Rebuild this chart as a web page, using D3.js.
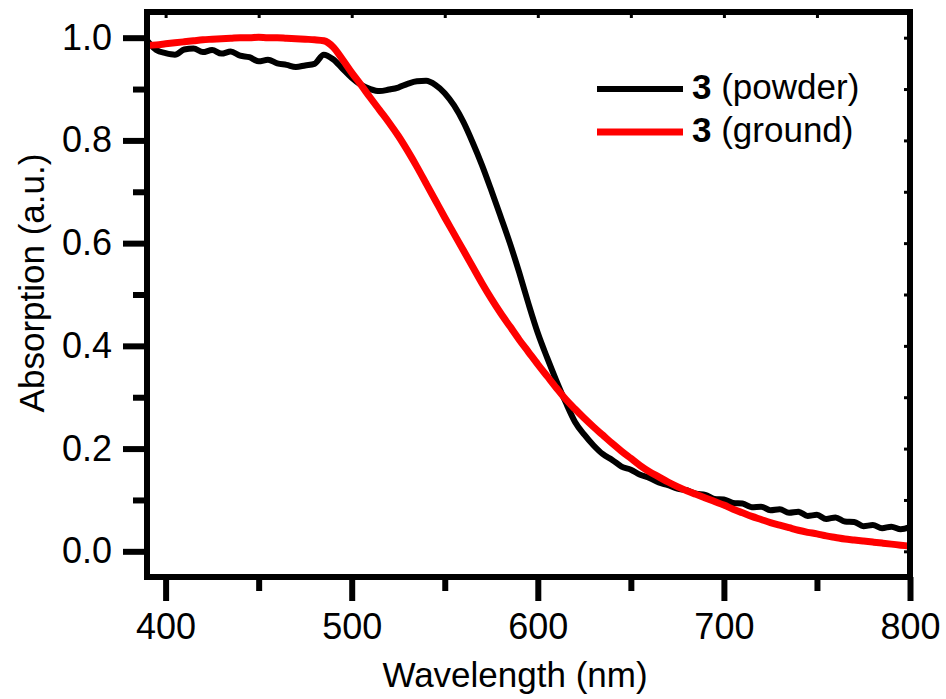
<!DOCTYPE html>
<html>
<head>
<meta charset="utf-8">
<script src="https://cdn.jsdelivr.net/npm/d3@7"></script>
<style>
  body { margin: 0; background: #fff; }
  text { font-family: "Liberation Sans", Arial, sans-serif; }
</style>
</head>
<body>
<div id="bdy"></div>
<script>
var width = 946;
var height = 699;

// wavelength grid (nm), 5 nm step
var wavelength = d3.range(390, 801, 5);

// 3 (powder) - black
var powder = [
  0.995, 0.976, 0.970, 0.967, 0.977, 0.979, 0.972, 0.976, 0.969, 0.973,
  0.965, 0.962, 0.954, 0.957, 0.950, 0.947, 0.943, 0.946, 0.949, 0.967,
  0.958, 0.940, 0.922, 0.908, 0.900, 0.896, 0.899, 0.903, 0.910, 0.915,
  0.916, 0.908, 0.892, 0.868, 0.836, 0.796, 0.752, 0.703, 0.652, 0.600,
  0.543, 0.482, 0.425, 0.377, 0.332, 0.290, 0.252, 0.227, 0.206, 0.189,
  0.178, 0.165, 0.159, 0.149, 0.143, 0.134, 0.129, 0.122, 0.119, 0.112,
  0.110, 0.102, 0.101, 0.094, 0.093, 0.086, 0.087, 0.080, 0.082, 0.075,
  0.077, 0.069, 0.071, 0.063, 0.066, 0.058, 0.057, 0.049, 0.051, 0.045,
  0.048, 0.043, 0.047
];

// 3 (ground) - red
var ground = [
  0.985, 0.986, 0.988, 0.990, 0.992, 0.994, 0.996, 0.997, 0.998, 0.999,
  1.000, 1.000, 1.001, 1.000, 1.000, 0.999, 0.998, 0.997, 0.996, 0.994,
  0.982, 0.958, 0.932, 0.908, 0.883, 0.859, 0.835, 0.809, 0.780, 0.749,
  0.716, 0.683, 0.650, 0.618, 0.586, 0.554, 0.522, 0.492, 0.464, 0.438,
  0.412, 0.388, 0.364, 0.341, 0.318, 0.296, 0.277, 0.259, 0.242, 0.226,
  0.210, 0.195, 0.181, 0.167, 0.155, 0.145, 0.135, 0.126, 0.118, 0.111,
  0.104, 0.097, 0.090, 0.082, 0.075, 0.068, 0.062, 0.056, 0.051, 0.046,
  0.041, 0.037, 0.034, 0.030, 0.027, 0.024, 0.022, 0.020, 0.018, 0.016,
  0.014, 0.012, 0.010
];

var xTicks = [400, 500, 600, 700, 800];
var xMinor = [450, 550, 650, 750];
var yTicks = [0.0, 0.2, 0.4, 0.6, 0.8, 1.0];
var yMinor = [0.1, 0.3, 0.5, 0.7, 0.9];

var margin = {top: 12, right: 36, bottom: 122, left: 147};

var svg = d3.select('#bdy').append('svg')
    .attr('width', width)
    .attr('height', height);

var xScale = d3.scaleLinear()
    .domain([390, 800])
    .range([margin.left, width - margin.right]);

var yScale = d3.scaleLinear()
    .domain([-0.05, 1.05])
    .range([height - margin.bottom, margin.top]);

var x0 = xScale.range()[0], x1 = xScale.range()[1];
var y0 = yScale.range()[0], y1 = yScale.range()[1];

function styleAxis(g, w) {
    g.select('.domain').remove();
    g.selectAll('line').attr('stroke', '#000').attr('stroke-width', w);
    g.selectAll('text')
        .attr('fill', '#000')
        .style('font-size', '36px')
        .style('font-family', '"Liberation Sans", Arial, sans-serif');
}

// bottom axis, major + minor
svg.append('g')
    .attr('transform', 'translate(0,' + y0 + ')')
    .call(d3.axisBottom(xScale).tickValues(xTicks).tickSize(24).tickPadding(12).tickFormat(d3.format('d')))
    .call(styleAxis, 6);
svg.append('g')
    .attr('transform', 'translate(0,' + y0 + ')')
    .call(d3.axisBottom(xScale).tickValues(xMinor).tickSize(14).tickFormat(''))
    .call(styleAxis, 6);

// left axis, major + minor
svg.append('g')
    .attr('transform', 'translate(' + x0 + ',0)')
    .call(d3.axisLeft(yScale).tickValues(yTicks).tickSize(24).tickPadding(11).tickFormat(d3.format('.1f')))
    .call(styleAxis, 6);
svg.append('g')
    .attr('transform', 'translate(' + x0 + ',0)')
    .call(d3.axisLeft(yScale).tickValues(yMinor).tickSize(14).tickFormat(''))
    .call(styleAxis, 6);

// top and right: tiny inner ticks
svg.append('g')
    .attr('transform', 'translate(0,' + y1 + ')')
    .call(d3.axisTop(xScale).tickValues(xTicks.concat(xMinor)).tickSize(-6).tickFormat(''))
    .call(styleAxis, 3);
svg.append('g')
    .attr('transform', 'translate(' + x1 + ',0)')
    .call(d3.axisRight(yScale).tickValues(yTicks.concat(yMinor)).tickSize(-6).tickFormat(''))
    .call(styleAxis, 3);

svg.append('clipPath').attr('id', 'plotclip')
    .append('rect')
    .attr('x', x0).attr('y', y1)
    .attr('width', x1 - x0).attr('height', y0 - y1);

var plot = svg.append('g').attr('clip-path', 'url(#plotclip)');

var line = d3.line()
    .x(function(d, i) { return xScale(wavelength[i]); })
    .y(function(d) { return yScale(d); })
    .curve(d3.curveMonotoneX);

plot.append('path')
    .datum(powder)
    .attr('fill', 'none')
    .attr('stroke', '#000')
    .attr('stroke-width', 6)
    .attr('stroke-linejoin', 'round')
    .attr('d', line);

plot.append('path')
    .datum(ground)
    .attr('fill', 'none')
    .attr('stroke', '#ff0000')
    .attr('stroke-width', 7)
    .attr('stroke-linejoin', 'round')
    .attr('d', line);

// frame
svg.append('rect')
    .attr('x', x0).attr('y', y1)
    .attr('width', x1 - x0).attr('height', y0 - y1)
    .attr('fill', 'none')
    .attr('stroke', '#000')
    .attr('stroke-width', 6);

// axis titles
svg.append('text')
    .attr('x', 515)
    .attr('y', 687)
    .attr('text-anchor', 'middle')
    .style('font-size', '35px')
    .text('Wavelength (nm)');

svg.append('text')
    .attr('transform', 'translate(44,283) rotate(-90)')
    .attr('text-anchor', 'middle')
    .style('font-size', '35px')
    .text('Absorption (a.u.)');

// legend
var legendItems = [
  {name: 'powder', color: '#000', w: 6},
  {name: 'ground', color: '#ff0000', w: 7}
];
var legend = svg.append('g');
legendItems.forEach(function(d, i) {
    var ly = 89 + i * 43;
    legend.append('line')
        .attr('x1', 597).attr('x2', 683)
        .attr('y1', ly).attr('y2', ly)
        .attr('stroke', d.color)
        .attr('stroke-width', d.w);
    var t = legend.append('text')
        .attr('x', 692)
        .attr('y', ly + 10)
        .style('font-size', '35px');
    t.append('tspan').style('font-weight', 'bold').text('3');
    t.append('tspan').text(' (' + d.name + ')');
});
</script>
</body>
</html>
